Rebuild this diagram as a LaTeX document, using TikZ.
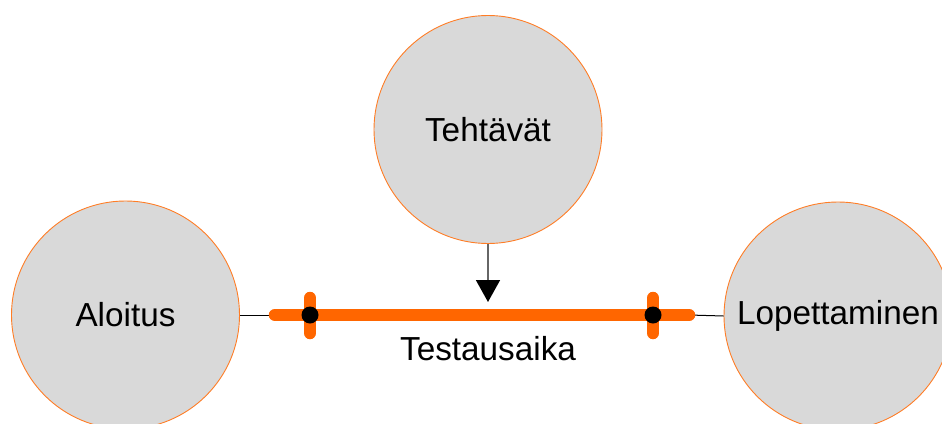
\documentclass[tikz,border=0pt]{standalone}
\usepackage{fontspec}
\setmainfont{Liberation Sans}
\usetikzlibrary{arrows.meta}
\definecolor{accent}{HTML}{FF6600}
\definecolor{disc}{HTML}{D9D9D9}
\begin{document}
\begin{tikzpicture}[x=1pt,y=-1pt,
  phase/.style={circle,draw=accent!85,line width=0.9pt,fill=disc,minimum size=228pt,inner sep=0pt,font=\fontsize{33.3}{36}\selectfont},
  timeline/.style={accent,line width=12.5pt,line cap=round},
  marker/.style={circle,fill=black,minimum size=17pt,inner sep=0pt},
  link/.style={black,line width=1pt},
  feed/.style={gray!80!black,line width=1.6pt,-{Triangle[width=24pt,length=22pt,black]}},
  caption/.style={font=\fontsize{33.3}{36}\selectfont}]
\useasboundingbox (0,0) rectangle (942,423);
\clip (0,0) rectangle (942,423);
% phases
\node[phase] (start) at (125.5,315) {Aloitus};
\node[phase] (tasks) at (488,129.5) {Tehtävät};
\node[phase] (stop) at (838,316) {Lopettaminen};
% test period bar (round caps add half the width at each end)
\coordinate (barL) at (275,315);
\coordinate (barR) at (689,315);
\coordinate (tickLt) at (310,298);
\coordinate (tickLb) at (310,333);
\coordinate (tickRt) at (653,298);
\coordinate (tickRb) at (653,333);
\draw[link] (start.east) -- (barL);
\draw[link] (barR) -- (stop.west);
\draw[timeline] (barL) -- (barR);
\draw[timeline] (tickLt) -- (tickLb);
\draw[timeline] (tickRt) -- (tickRb);
\node[marker] (m1) at (310,315) {};
\node[marker] (m2) at (653,315) {};
\coordinate (arrowEnd) at (488,302);
\draw[feed] (tasks.south) -- (arrowEnd);
\node[caption] (period) at (488,349) {Testausaika};
\end{tikzpicture}
\end{document}
